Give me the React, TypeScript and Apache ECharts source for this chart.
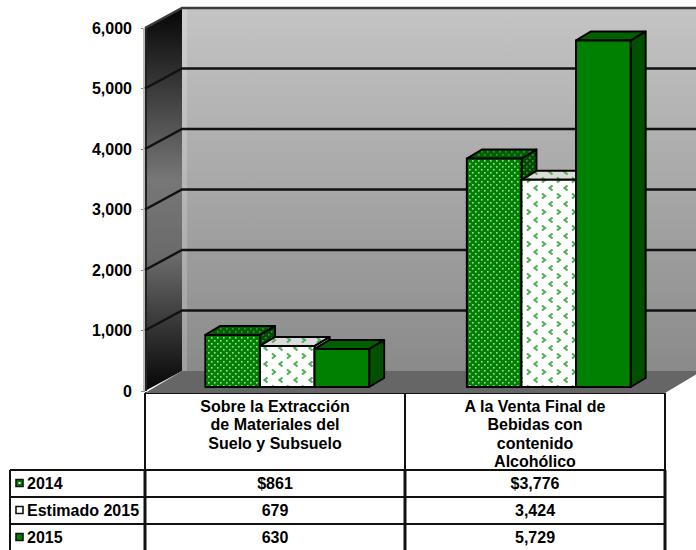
import React, { useEffect, useRef } from "react";
import * as echarts from "echarts";

const categories = ["Sobre la Extracción\nde Materiales del\nSuelo y Subsuelo", "A la Venta Final de\nBebidas con\ncontenido\nAlcohólico"];
const seriesNames = ["2014", "Estimado 2015", "2015"];
const values2014 = [861, 3776];
const valuesEst2015 = [679, 3424];
const values2015 = [630, 5729];
const tableRows = [
  ["$861", "$3,776"],
  ["679", "3,424"],
  ["630", "5,729"],
];
const yTicks = [0, 1000, 2000, 3000, 4000, 5000, 6000];

const FONT = "'Liberation Sans', Arial, sans-serif";
const DX = 37, DY = -20; // wall depth
const WALL_W = 520;
const BAR_W = 54.6, BAR_SHIFT = 11.5, BAR_LIFT = 4, BAR_DX = 15, BAR_DY = -9;

function tile(w: number, h: number, draw: (c: CanvasRenderingContext2D) => void, bg: string) {
  const cv = document.createElement("canvas");
  cv.width = w; cv.height = h;
  const c = cv.getContext("2d")!;
  c.fillStyle = bg; c.fillRect(0, 0, w, h);
  draw(c);
  return { image: cv.toDataURL(), imageWidth: w, imageHeight: h, repeat: "repeat" as const };
}
function dots(bg: string, dot: string) {
  return tile(6, 6, (c) => {
    c.fillStyle = dot;
    c.fillRect(1, 1, 1.6, 1.6);
    c.fillRect(4, 4, 1.6, 1.6);
  }, bg);
}
function chevrons(bg: string, col: string) {
  return tile(15, 16, (c) => {
    c.strokeStyle = col; c.lineWidth = 2.2;
    c.beginPath(); c.moveTo(2, 1.5); c.lineTo(5, 4); c.lineTo(2, 6.5); c.stroke();
    c.beginPath(); c.moveTo(12.5, 9.5); c.lineTo(9.5, 12); c.lineTo(12.5, 14.5); c.stroke();
  }, bg);
}

function polyShape(points: number[][], fill: any, stroke: any = "#000", lineWidth = 2) {
  return { type: "polygon", shape: { points }, style: { fill, stroke, lineWidth, lineJoin: "round" } };
}

export default function App() {
  const ref = useRef<HTMLDivElement>(null);
  useEffect(() => {
    document.body.style.margin = "0";
    const chart = echarts.init(ref.current!, undefined, { renderer: "svg" });

    const faces = [
      { front: dots("#008000", "#a8d8a8"), top: dots("#005f00", "#3f9a3f"), side: dots("#004d00", "#3f9a3f") },
      { front: chevrons("#ffffff", "#55b055"), top: chevrons("#dcdcdc", "#55b055"), side: chevrons("#c8c8c8", "#55b055") },
      { front: "#008000", top: "#006000", side: "#005000" },
    ];

    const barSeries = (name: string, values: number[], idx: number) => ({
      type: "custom",
      name,
      data: values.map((v, i) => [i, v]),
      encode: { x: 0, y: 1 },
      z: 3 + idx,
      renderItem: (_: any, api: any) => {
        const top = api.coord([api.value(0), api.value(1)]);
        const base = api.coord([api.value(0), 0]);
        const x0 = top[0] + BAR_SHIFT + (idx - 1.5) * BAR_W;
        const x1 = x0 + BAR_W;
        const yT = top[1] - BAR_LIFT;
        const yB = base[1] - BAR_LIFT;
        const f = faces[idx];
        return {
          type: "group",
          children: [
            polyShape([[x1, yB], [x1 + BAR_DX, yB + BAR_DY], [x1 + BAR_DX, yT + BAR_DY], [x1, yT]], f.side),
            polyShape([[x0, yT], [x0 + BAR_DX, yT + BAR_DY], [x1 + BAR_DX, yT + BAR_DY], [x1, yT]], f.top),
            polyShape([[x0, yT], [x1, yT], [x1, yB], [x0, yB]], f.front),
          ],
        };
      },
    });

    const wallSeries = {
      type: "custom",
      silent: true,
      data: [[0, 0]],
      encode: { x: 0, y: 1 },
      z: 1,
      renderItem: (_: any, api: any) => {
        const w = api.size([1, 0])[0];
        const l = api.coord([0, 0])[0] - w / 2;
        const r = l + WALL_W;
        const y0 = api.coord([0, 0])[1];
        const y6 = api.coord([0, 6000])[1];
        const children: any[] = [
          polyShape([[l + DX, y6 + DY], [r + DX, y6 + DY], [r + DX, y0 + DY], [l + DX, y0 + DY]],
            new echarts.graphic.LinearGradient(0, 0, 0, 1, [{ offset: 0, color: "#c4c4c4" }, { offset: 1, color: "#8a8a8a" }]), "none", 0),
          polyShape([[l, y6], [l + DX, y6 + DY], [l + DX, y0 + DY], [l, y0]],
            new echarts.graphic.LinearGradient(0, 0, 0, 1, [
              { offset: 0, color: "#050505" }, { offset: 0.45, color: "#777777" }, { offset: 0.65, color: "#6a6a6a" }, { offset: 1, color: "#050505" },
            ]), "none", 0),
          polyShape([[l + DX, y0 + DY], [l + DX + 5, y0 + DY], [l + DX + 5, y6 + DY], [l + DX, y6 + DY]], "rgba(255,255,255,0.18)", "none", 0),
          polyShape([[l, y0 + 2], [l + DX, y0 + DY], [r + DX, y0 + DY], [r, y0 + 2]], "#666666", "none", 0),
          { type: "line", shape: { x1: l + 1, y1: y6, x2: l + 1, y2: y0 }, style: { stroke: "#222", lineWidth: 2 } },
          { type: "line", shape: { x1: l - 1, y1: y6, x2: l - 1, y2: y0 }, style: { stroke: "#bbb", lineWidth: 2 } },
        ];
        yTicks.slice(1).forEach((t) => {
          const y = api.coord([0, t])[1];
          children.push({
            type: "polyline",
            shape: { points: [[l, y], [l + DX, y + DY], [r + DX, y + DY]] },
            style: { fill: "none", stroke: t === 6000 ? "#3c3c3c" : "#111", lineWidth: 2.4 },
          });
        });
        return { type: "group", children };
      },
    };

    const X_LEFT = 10, X_A = 145, X_B = 405, X_R = 665;
    const ROWS = [470, 497, 524, 551];
    const hline = (x1: number, x2: number, y: number, w = 2) => ({
      type: "line", shape: { x1, y1: y, x2, y2: y }, style: { stroke: "#111", lineWidth: w },
    });
    const vline = (x: number, y1: number, y2: number, w = 2) => ({
      type: "line", shape: { x1: x, y1, x2: x, y2 }, style: { stroke: "#111", lineWidth: w },
    });
    const text = (x: number, y: number, t: string, align = "center", va = "middle") => ({
      type: "text", x, y,
      style: { text: t, fontFamily: FONT, fontSize: 16, fontWeight: "bold", fill: "#000", align, verticalAlign: va, lineHeight: 18.4 },
    });
    const swatches: any[] = [
      { fill: "#008000", inner: "#fff" },
      { fill: "#fff", inner: null },
      { fill: "#008000", inner: null },
    ];
    const tableEls: any[] = [
      hline(X_A, X_R, 393),
      vline(X_A, 393, 470),
      vline(X_B, 393, 470),
      vline(X_R, 393, 470),
      ...ROWS.slice(0, 3).map((y) => hline(X_LEFT, X_R, y)),
      vline(X_LEFT, 470, 550),
      vline(X_A, 470, 550, 3),
      vline(X_B, 470, 550, 3),
      vline(X_R, 470, 550, 3),
      text(275, 397, categories[0], "center", "top"),
      text(535, 397, categories[1], "center", "top"),
    ];
    seriesNames.forEach((n, i) => {
      const cy = (ROWS[i] + ROWS[i + 1]) / 2;
      tableEls.push({ type: "rect", shape: { x: 16, y: cy - 4, width: 7, height: 7 }, style: { fill: swatches[i].fill, stroke: "#111", lineWidth: 1.6 } });
      if (swatches[i].inner) tableEls.push({ type: "rect", shape: { x: 18.5, y: cy - 1.5, width: 2, height: 2 }, style: { fill: swatches[i].inner } });
      tableEls.push(text(27, cy, n, "left"));
      tableEls.push(text(275, cy, tableRows[i][0]));
      tableEls.push(text(535, cy, tableRows[i][1]));
    });

    chart.setOption({
      animation: false,
      backgroundColor: "#fff",
      grid: { left: 145, right: 28, top: 28, bottom: 159 },
      xAxis: {
        type: "category",
        data: categories,
        axisLabel: { show: false },
        axisTick: { show: false },
        axisLine: { show: false },
      },
      yAxis: {
        type: "value",
        min: 0,
        max: 6000,
        interval: 1000,
        axisLine: { show: false },
        axisTick: { show: true, length: 4, lineStyle: { color: "#888" } },
        splitLine: { show: false },
        axisLabel: {
          fontFamily: FONT, fontSize: 16, fontWeight: "bold", color: "#000", margin: 13,
          formatter: (v: number) => v.toLocaleString("en-US"),
        },
      },
      graphic: { elements: tableEls },
      series: [
        wallSeries,
        barSeries(seriesNames[0], values2014, 0),
        barSeries(seriesNames[1], valuesEst2015, 1),
        barSeries(seriesNames[2], values2015, 2),
      ],
    });
    return () => chart.dispose();
  }, []);
  return <div ref={ref} style={{ width: 696, height: 550 }} />;
}
